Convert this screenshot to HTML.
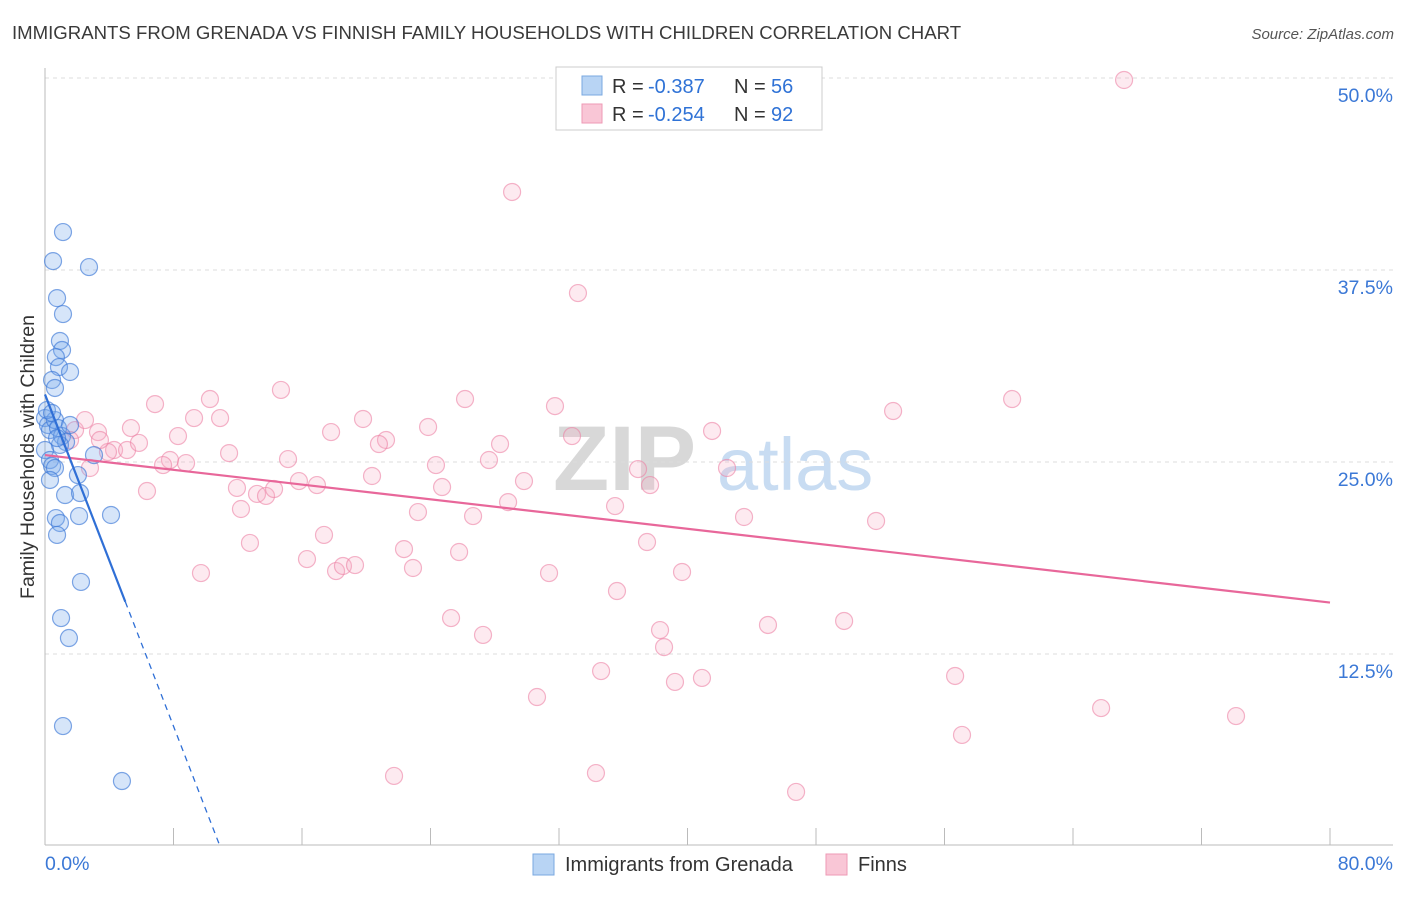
<!DOCTYPE html>
<html><head><meta charset="utf-8">
<style>
body{margin:0;background:#fff;font-family:"Liberation Sans",sans-serif;}
svg text{font-family:"Liberation Sans",sans-serif;}
</style></head>
<body>
<svg id="chart" width="1406" height="892" viewBox="0 0 1406 892" xmlns="http://www.w3.org/2000/svg">
<text x="12" y="39" font-size="18.6" fill="#3a3a3a">IMMIGRANTS FROM GRENADA VS FINNISH FAMILY HOUSEHOLDS WITH CHILDREN CORRELATION CHART</text>
<text x="1394" y="39" font-size="15" fill="#555" text-anchor="end" font-style="italic">Source: ZipAtlas.com</text>
<g>
<text x="553" y="490" font-size="92" fill="#d8d8d8" font-family="Liberation Serif" font-weight="bold">ZIP</text>
<text x="717" y="490" font-size="74" fill="#c8dcf2">atlas</text>
</g>
<g id="grid"></g>
<g id="axes"></g>
<g id="pink"></g>
<g id="blue"></g>
<g id="trends"></g>
<text transform="translate(34,457) rotate(-90)" font-size="19.5" fill="#333" text-anchor="middle">Family Households with Children</text>
<g>
<rect x="556" y="67" width="266" height="63" fill="#fff" stroke="#ccc"/>
<rect x="582" y="76" width="20" height="19" fill="#b8d4f4" stroke="#7aa8e0"/>
<rect x="582" y="104" width="20" height="19" fill="#f9c6d6" stroke="#ee9ab5"/>
<text x="612" y="93" font-size="20" fill="#333">R =</text>
<text x="648" y="93" font-size="20" fill="#2f72d6">-0.387</text>
<text x="734" y="93" font-size="20" fill="#333">N =</text>
<text x="771" y="93" font-size="20" fill="#2f72d6">56</text>
<text x="612" y="121" font-size="20" fill="#333">R =</text>
<text x="648" y="121" font-size="20" fill="#2f72d6">-0.254</text>
<text x="734" y="121" font-size="20" fill="#333">N =</text>
<text x="771" y="121" font-size="20" fill="#2f72d6">92</text>
</g>
<g>
<rect x="533" y="854" width="21" height="21" fill="#b8d4f4" stroke="#7aa8e0"/>
<text x="565" y="871" font-size="20" fill="#333">Immigrants from Grenada</text>
<rect x="826" y="854" width="21" height="21" fill="#f9c6d6" stroke="#ee9ab5"/>
<text x="858" y="871" font-size="20" fill="#333">Finns</text>
</g>
</svg>
<script>
const blueX=[1.12,0.50,2.74,0.75,1.12,0.93,1.06,0.68,0.87,1.56,0.44,0.62,0,0.19,0.31,0.62,0.81,1.06,1.31,0.93,0,0.31,0.44,0.62,2.05,0.31,1.25,2.18,2.12,0.68,0.93,0.75,4.11,3.05,2.24,1.00,1.49,1.12,4.79,0.12,0.44,1.56,0.75];
const blueY=[39.97,38.08,37.69,35.67,34.63,32.88,32.29,31.83,31.18,30.86,30.34,29.82,27.86,27.41,27.08,27.73,27.21,26.69,26.30,26.11,25.78,25.13,24.74,24.61,24.15,23.83,22.85,22.98,21.48,21.35,21.03,20.25,21.55,25.45,17.19,14.84,13.54,7.81,4.23,28.38,28.19,27.41,26.56];
const pinkX=[67.18,29.08,33.18,14.69,6.85,10.27,9.28,10.90,5.35,3.30,8.28,19.80,17.81,23.85,26.15,31.75,28.33,32.81,21.23,20.79,11.46,15.13,27.64,24.34,4.30,5.11,5.85,3.92,7.78,8.78,7.35,6.35,11.95,13.20,13.76,14.26,15.81,16.93,20.36,24.72,29.82,28.83,26.65,23.22,12.20,12.76,17.37,16.31,18.12,18.55,19.30,22.35,25.78,22.91,9.71,31.38,35.49,36.92,37.67,37.48,39.66,41.53,42.46,43.52,51.74,52.80,60.21,35.61,25.28,27.27,38.29,38.54,45.01,49.75,34.62,39.22,40.90,30.63,56.66,65.75,74.15,57.09,21.73,34.30,46.76,2.80,3.42,1.87,1.56,2.49];
const pinkY=[49.87,42.58,36.00,29.69,28.77,29.10,27.86,27.86,27.21,26.95,26.69,27.80,26.95,27.28,29.10,28.64,26.17,26.69,26.43,26.17,25.58,25.19,25.13,24.80,25.78,25.78,26.24,25.65,25.13,24.93,24.80,23.11,23.31,22.92,22.79,23.24,23.76,23.50,24.09,23.37,23.76,22.39,21.48,21.74,21.94,19.73,20.25,18.68,17.90,18.23,18.29,19.33,19.14,18.10,17.77,17.77,22.13,24.54,23.50,19.79,17.84,27.02,24.61,21.42,21.16,28.32,29.10,16.60,14.84,13.74,14.06,12.95,14.39,14.65,11.39,10.68,10.94,9.70,11.07,8.98,8.46,7.23,4.56,4.75,3.52,24.61,26.43,27.08,26.43,27.73];
const yTicks=[12.5,25.0,37.5,50.0];
const yTickLabels=["12.5%","25.0%","37.5%","50.0%"];
const xTicks=[8,16,24,32,40,48,56,64,72,80];
const blueTrend=[29.4,-2.70,5.0,10.9];
const pinkTrend=[25.45,-0.12,80];

const NS="http://www.w3.org/2000/svg";
const X0=45,X1=1330,Y0=846,PXY=192/12.5;
function sx(v){return X0+(v/80)*(X1-X0);}
function sy(v){return Y0-v*PXY;}
function mk(tag,attrs,parent){const e=document.createElementNS(NS,tag);for(const k in attrs)e.setAttribute(k,attrs[k]);parent.appendChild(e);return e;}

const grid=document.getElementById('grid');
yTicks.forEach((t,i)=>{
  const l=mk('line',{x1:X0,x2:1393,y1:sy(t),y2:sy(t),stroke:'#ddd','stroke-dasharray':'4,4'},grid);
  
  
  const tx=mk('text',{x:1393,y:sy(t)+24,'font-size':19.5,fill:'#3b78d6','text-anchor':'end'},grid);
  tx.textContent=yTickLabels[i];
  
  
});
const axes=document.getElementById('axes');
const ya=mk('line',{x1:X0,x2:X0,y1:68,y2:845,stroke:'#bbb'},axes);


const xa=mk('line',{x1:X0,x2:1393,y1:845,y2:845,stroke:'#bbb'},axes);


xTicks.forEach(v=>{
  const tk=mk('line',{x1:sx(v),x2:sx(v),y1:828,y2:845,stroke:'#bbb'},axes);
  
  
});
const xl0=mk('text',{x:45,y:870,'font-size':19.5,fill:'#3b78d6'},axes);
xl0.textContent='0.0%';


const xl1=mk('text',{x:1393,y:870,'font-size':19.5,fill:'#3b78d6','text-anchor':'end'},axes);
xl1.textContent='80.0%';



const pg=document.getElementById('pink');
pinkX.forEach((x,i)=>{
  const c=mk('circle',{cx:sx(x),cy:sy(pinkY[i]),r:8.5,fill:'rgba(246,170,195,0.25)',stroke:'rgba(236,130,165,0.6)','stroke-width':1.2},pg);
  
  
});
const bg=document.getElementById('blue');
blueX.forEach((x,i)=>{
  const c=mk('circle',{cx:sx(x),cy:sy(blueY[i]),r:8.5,fill:'rgba(120,170,235,0.3)',stroke:'rgba(60,120,215,0.65)','stroke-width':1.2},bg);
  
  
});
const tg=document.getElementById('trends');
const pt=mk('line',{x1:sx(0),y1:sy(pinkTrend[0]),x2:sx(pinkTrend[2]),y2:sy(pinkTrend[0]+pinkTrend[1]*pinkTrend[2]),stroke:'#e8679a','stroke-width':2.2},tg);


const bt=mk('line',{x1:sx(0),y1:sy(blueTrend[0]),x2:sx(blueTrend[2]),y2:sy(blueTrend[0]+blueTrend[1]*blueTrend[2]),stroke:'#2f6fd6','stroke-width':2.2},tg);


const bd=mk('line',{x1:sx(blueTrend[2]),y1:sy(blueTrend[0]+blueTrend[1]*blueTrend[2]),x2:sx(blueTrend[3]),y2:sy(blueTrend[0]+blueTrend[1]*blueTrend[3]),stroke:'#2f6fd6','stroke-width':1.3,'stroke-dasharray':'6,5'},tg);


</script>
</body></html>
